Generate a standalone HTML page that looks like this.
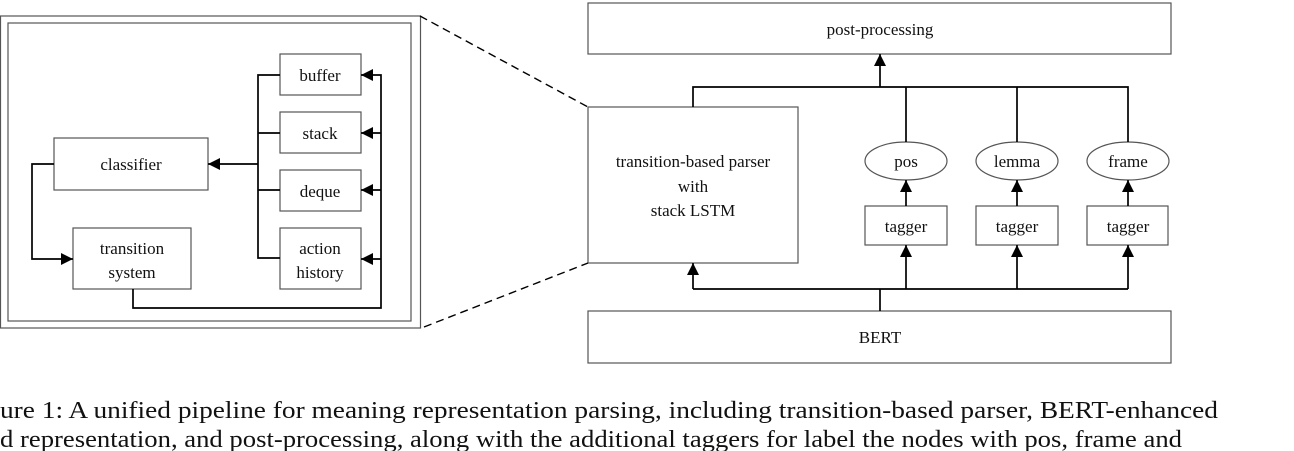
<!DOCTYPE html>
<html><head><meta charset="utf-8"><style>
html,body{margin:0;padding:0;background:#fff;}
svg{display:block;}
text{font-family:"Liberation Serif",serif;fill:#111;}
</style></head><body>
<svg width="1294" height="451" viewBox="0 0 1294 451" xmlns="http://www.w3.org/2000/svg">
<defs>
<marker id="a" viewBox="0 0 10 10" refX="10" refY="5" markerWidth="12" markerHeight="12" markerUnits="userSpaceOnUse" orient="auto"><path d="M0,0 L10,5 L0,10 z" fill="#000"/></marker>
</defs>
<g fill="none" stroke="#555" stroke-width="1.2">
<rect x="0.5" y="16" width="420" height="312"/>
<rect x="8" y="23" width="403" height="298"/>
<rect x="280" y="54" width="81" height="41"/>
<rect x="280" y="112" width="81" height="41"/>
<rect x="280" y="170" width="81" height="41"/>
<rect x="280" y="228" width="81" height="61"/>
<rect x="54" y="138" width="154" height="52"/>
<rect x="73" y="228" width="118" height="61"/>
<rect x="588" y="3" width="583" height="51"/>
<rect x="588" y="107" width="210" height="156"/>
<rect x="865" y="206" width="82" height="39"/>
<rect x="976" y="206" width="82" height="39"/>
<rect x="1087" y="206" width="81" height="39"/>
<ellipse cx="906" cy="161" rx="41" ry="19"/>
<ellipse cx="1017" cy="161" rx="41" ry="19"/>
<ellipse cx="1128" cy="161" rx="41" ry="19"/>
<rect x="588" y="311" width="583" height="52"/>
</g>
<g fill="none" stroke="#000" stroke-width="1.7">
<path d="M420,16 L588,107" stroke-dasharray="8,5" stroke-width="1.4"/>
<path d="M424,327 L588,263" stroke-dasharray="8,5" stroke-width="1.4"/>
<path d="M280,75 H258 V258 H280 M258,133 H280 M258,190 H280"/>
<path d="M258,164 H208" marker-end="url(#a)"/>
<path d="M54,164 H32 V259 H73" marker-end="url(#a)"/>
<path d="M133,289 V308 H381 V75 H361" marker-end="url(#a)"/>
<path d="M381,133 H361" marker-end="url(#a)"/>
<path d="M381,190 H361" marker-end="url(#a)"/>
<path d="M381,259 H361" marker-end="url(#a)"/>
<path d="M693,107 V87 H1128 V142 M906,87 V142 M1017,87 V142"/>
<path d="M880,87 V54" marker-end="url(#a)"/>
<path d="M906,206 V180" marker-end="url(#a)"/>
<path d="M1017,206 V180" marker-end="url(#a)"/>
<path d="M1128,206 V180" marker-end="url(#a)"/>
<path d="M880,311 V289 M693,289 H1128"/>
<path d="M693,289 V263" marker-end="url(#a)"/>
<path d="M906,289 V245" marker-end="url(#a)"/>
<path d="M1017,289 V245" marker-end="url(#a)"/>
<path d="M1128,289 V245" marker-end="url(#a)"/>
</g>
<g font-size="17" text-anchor="middle">
<text x="320" y="81">buffer</text>
<text x="320" y="139">stack</text>
<text x="320" y="197">deque</text>
<text x="320" y="254">action</text>
<text x="320" y="278">history</text>
<text x="131" y="170">classifier</text>
<text x="132" y="254">transition</text>
<text x="132" y="278">system</text>
<text x="880" y="35">post-processing</text>
<text x="693" y="167">transition-based parser</text>
<text x="693" y="192">with</text>
<text x="693" y="216">stack LSTM</text>
<text x="906" y="167">pos</text>
<text x="1017" y="167">lemma</text>
<text x="1128" y="167">frame</text>
<text x="906" y="232">tagger</text>
<text x="1017" y="232">tagger</text>
<text x="1128" y="232">tagger</text>
<text x="880" y="343">BERT</text>
</g>
<g font-size="24">
<text x="0" y="418" textLength="1218" lengthAdjust="spacingAndGlyphs">ure 1: A unified pipeline for meaning representation parsing, including transition-based parser, BERT-enhanced</text>
<text x="0" y="447" textLength="1182" lengthAdjust="spacingAndGlyphs">d representation, and post-processing, along with the additional taggers for label the nodes with pos, frame and</text>
</g>
</svg>
</body></html>
